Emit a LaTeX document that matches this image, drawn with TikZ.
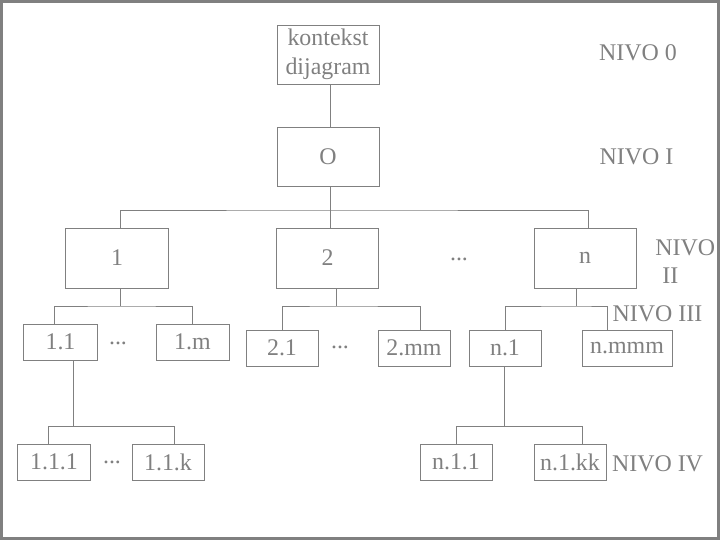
\documentclass[tikz,border=0pt]{standalone}
\usepackage{fontspec}
\setmainfont{Liberation Serif}
\begin{document}
\begin{tikzpicture}[x=0.025cm,y=-0.025cm,line join=miter,
  box/.style={draw=linec,line width=0.7pt,text=linec,inner sep=0pt,
    font=\fontsize{17}{20.5}\selectfont,align=center},
  big/.style={box,minimum width=2.55cm,minimum height=1.5cm},
  small/.style={box,minimum width=1.8cm,minimum height=0.9cm},
  lab/.style={text=linec,inner sep=0pt,font=\fontsize{17}{20}\selectfont},
  wire/.style={draw=linec,line width=0.7pt}]

  \definecolor{linec}{RGB}{128,128,128}

  \useasboundingbox (0,0) rectangle (720,540);
  % ---- frame ----
  \draw[linec,line width=0.075cm] (1.5,1.5) rectangle (718.5,538.5);

  % ---- level 0 and I ----
  \node[big,minimum height=1.475cm] (kon) at (328,54.5) {kontekst\\dijagram};
  \node[big,minimum height=1.475cm] (o) at (328,156.5) {O};

  % ---- level II ----
  \node[big] (b1) at (117,258) {1};
  \node[big] (b2) at (327.5,258) {2};
  \node[big] (bn) at (585,258) {n};

  % ---- level III ----
  \node[small,minimum width=1.825cm] (b11) at (60.5,342) {1.1};
  \node[small,minimum width=1.825cm] (b1m) at (192.5,342) {1.m};
  \node[small] (b21) at (282,348) {2.1};
  \node[small] (b2mm) at (414,348) {2.mm};
  \node[small] (bn1) at (505,348) {n.1};
  \node[small,minimum width=2.25cm] (bnmmm) at (627,348) {n.mmm};

  % ---- level IV ----
  \node[small] (b111) at (54,462) {1.1.1};
  \node[small] (b11k) at (168,462) {1.1.k};
  \node[small] (bn11) at (456,462) {n.1.1};
  \node[small] (bn1kk) at (570,462) {n.1.kk};

  % ---- dots between siblings ----
  \node[lab] (d2) at (459,259) {...};
  \node[lab] (d11) at (118,343) {...};
  \node[lab] (d21) at (340,347) {...};
  \node[lab] (d111) at (112,462) {...};

  % ---- level names ----
  \node[lab] (niv0) at (638,53) {NIVO 0};
  \node[lab] (niv1) at (636.5,157) {NIVO I};
  \node[lab,align=left,anchor=west] (niv2) at (655,262) {NIVO\\\hspace*{0.3em}II};
  \node[lab] (niv3) at (657.5,314) {NIVO III};
  \node[lab] (niv4) at (657.5,463.5) {NIVO IV};

  % ---- connectors ----
  \coordinate (jo) at (330,210);
  \draw[wire] (kon.south -| jo) -- (o.north -| jo);
  \draw[wire] (o.south -| jo) -- (b2.north -| jo);
  \draw[wire] ([xshift=0.075cm]b1.north) |- (jo) -| ([xshift=0.075cm]bn.north);

  \coordinate (j1) at (120,306);
  \draw[wire] (b1.south -| j1) -- (j1);
  \draw[wire] ([xshift=-0.16cm]b11.north) |- (j1) -| (b1m.north);

  \coordinate (j2) at (336,306);
  \draw[wire] (b2.south -| j2) -- (j2);
  \draw[wire] (b21.north) |- (j2) -| ([xshift=0.15cm]b2mm.north);

  \coordinate (jn) at (576,306);
  \draw[wire] (bn.south -| jn) -- (jn);
  \draw[wire] (bn1.north) |- (jn) -| ([xshift=-0.5cm]bnmmm.north);

  \coordinate (j11) at (73,426);
  \draw[wire] (b11.south -| j11) -- (j11);
  \draw[wire] ([xshift=-0.15cm]b111.north) |- (j11) -| ([xshift=0.15cm]b11k.north);

  \coordinate (jn1) at (504,426);
  \draw[wire] (bn1.south -| jn1) -- (jn1);
  \draw[wire] (bn11.north) |- (jn1) -| ([xshift=0.3cm]bn1kk.north);
\end{tikzpicture}
\end{document}
